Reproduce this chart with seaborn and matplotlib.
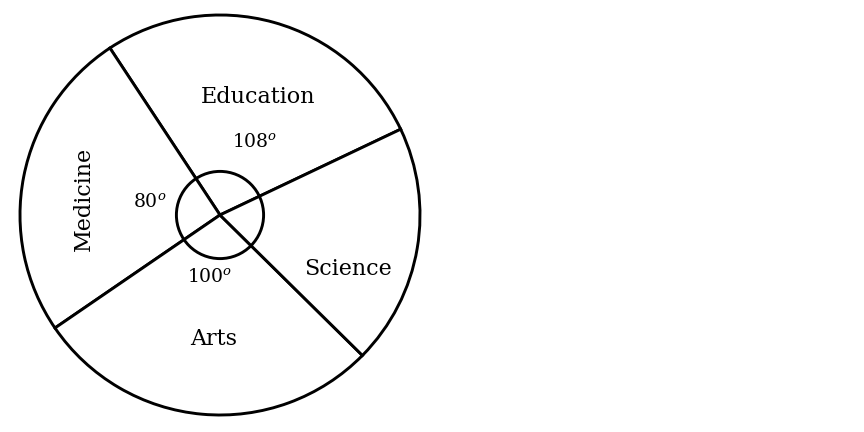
import seaborn as sns
import matplotlib.pyplot as plt
from matplotlib.patches import Circle

# pie data - slice angles (degrees) as drawn in the picture, labels as printed
sectors = ['Education', 'Medicine', 'Arts', 'Science']
angles_drawn = [98, 91, 101, 70]
angle_labels = ['108', '80', '100']
start_angle = 25.4

sns.set_theme(style='white')
plt.rcParams['font.family'] = ['DejaVu Serif']
plt.rcParams['mathtext.fontset'] = 'dejavuserif'
plt.rcParams['text.color'] = 'black'

fig = plt.figure(figsize=(8.64, 4.32), dpi=100)
ax = fig.add_axes([4 / 864, 1 / 432, 432 / 864, 432 / 432])

ax.pie(angles_drawn, startangle=start_angle, counterclock=True,
       colors=['white'] * len(sectors),
       wedgeprops=dict(edgecolor='black', linewidth=2.1))

# small angle marker circle at the centre
ax.add_patch(Circle((0, 0), 0.218, fill=False, edgecolor='black', linewidth=2.1))

# sector names
name_pos = {'Education': (0.19, 0.59, 0), 'Medicine': (-0.68, 0.08, 90),
            'Arts': (-0.03, -0.62, 0), 'Science': (0.64, -0.27, 0)}
for name in sectors:
    x, y, rot = name_pos[name]
    ax.text(x, y, name, ha='center', va='center', rotation=rot,
            fontsize=16, color='black')

# angle texts
deg_pos = [(0.175, 0.365), (-0.35, 0.065), (-0.05, -0.31)]
for lab, (x, y) in zip(angle_labels, deg_pos):
    ax.text(x, y, '$' + lab + '^o$', ha='center', va='center',
            fontsize=13.5, color='black')

ax.set_xlim(-1.08, 1.08)
ax.set_ylim(-1.08, 1.08)
ax.set_aspect('equal')
ax.axis('off')

fig.savefig('out.png', dpi=100, facecolor='white')
